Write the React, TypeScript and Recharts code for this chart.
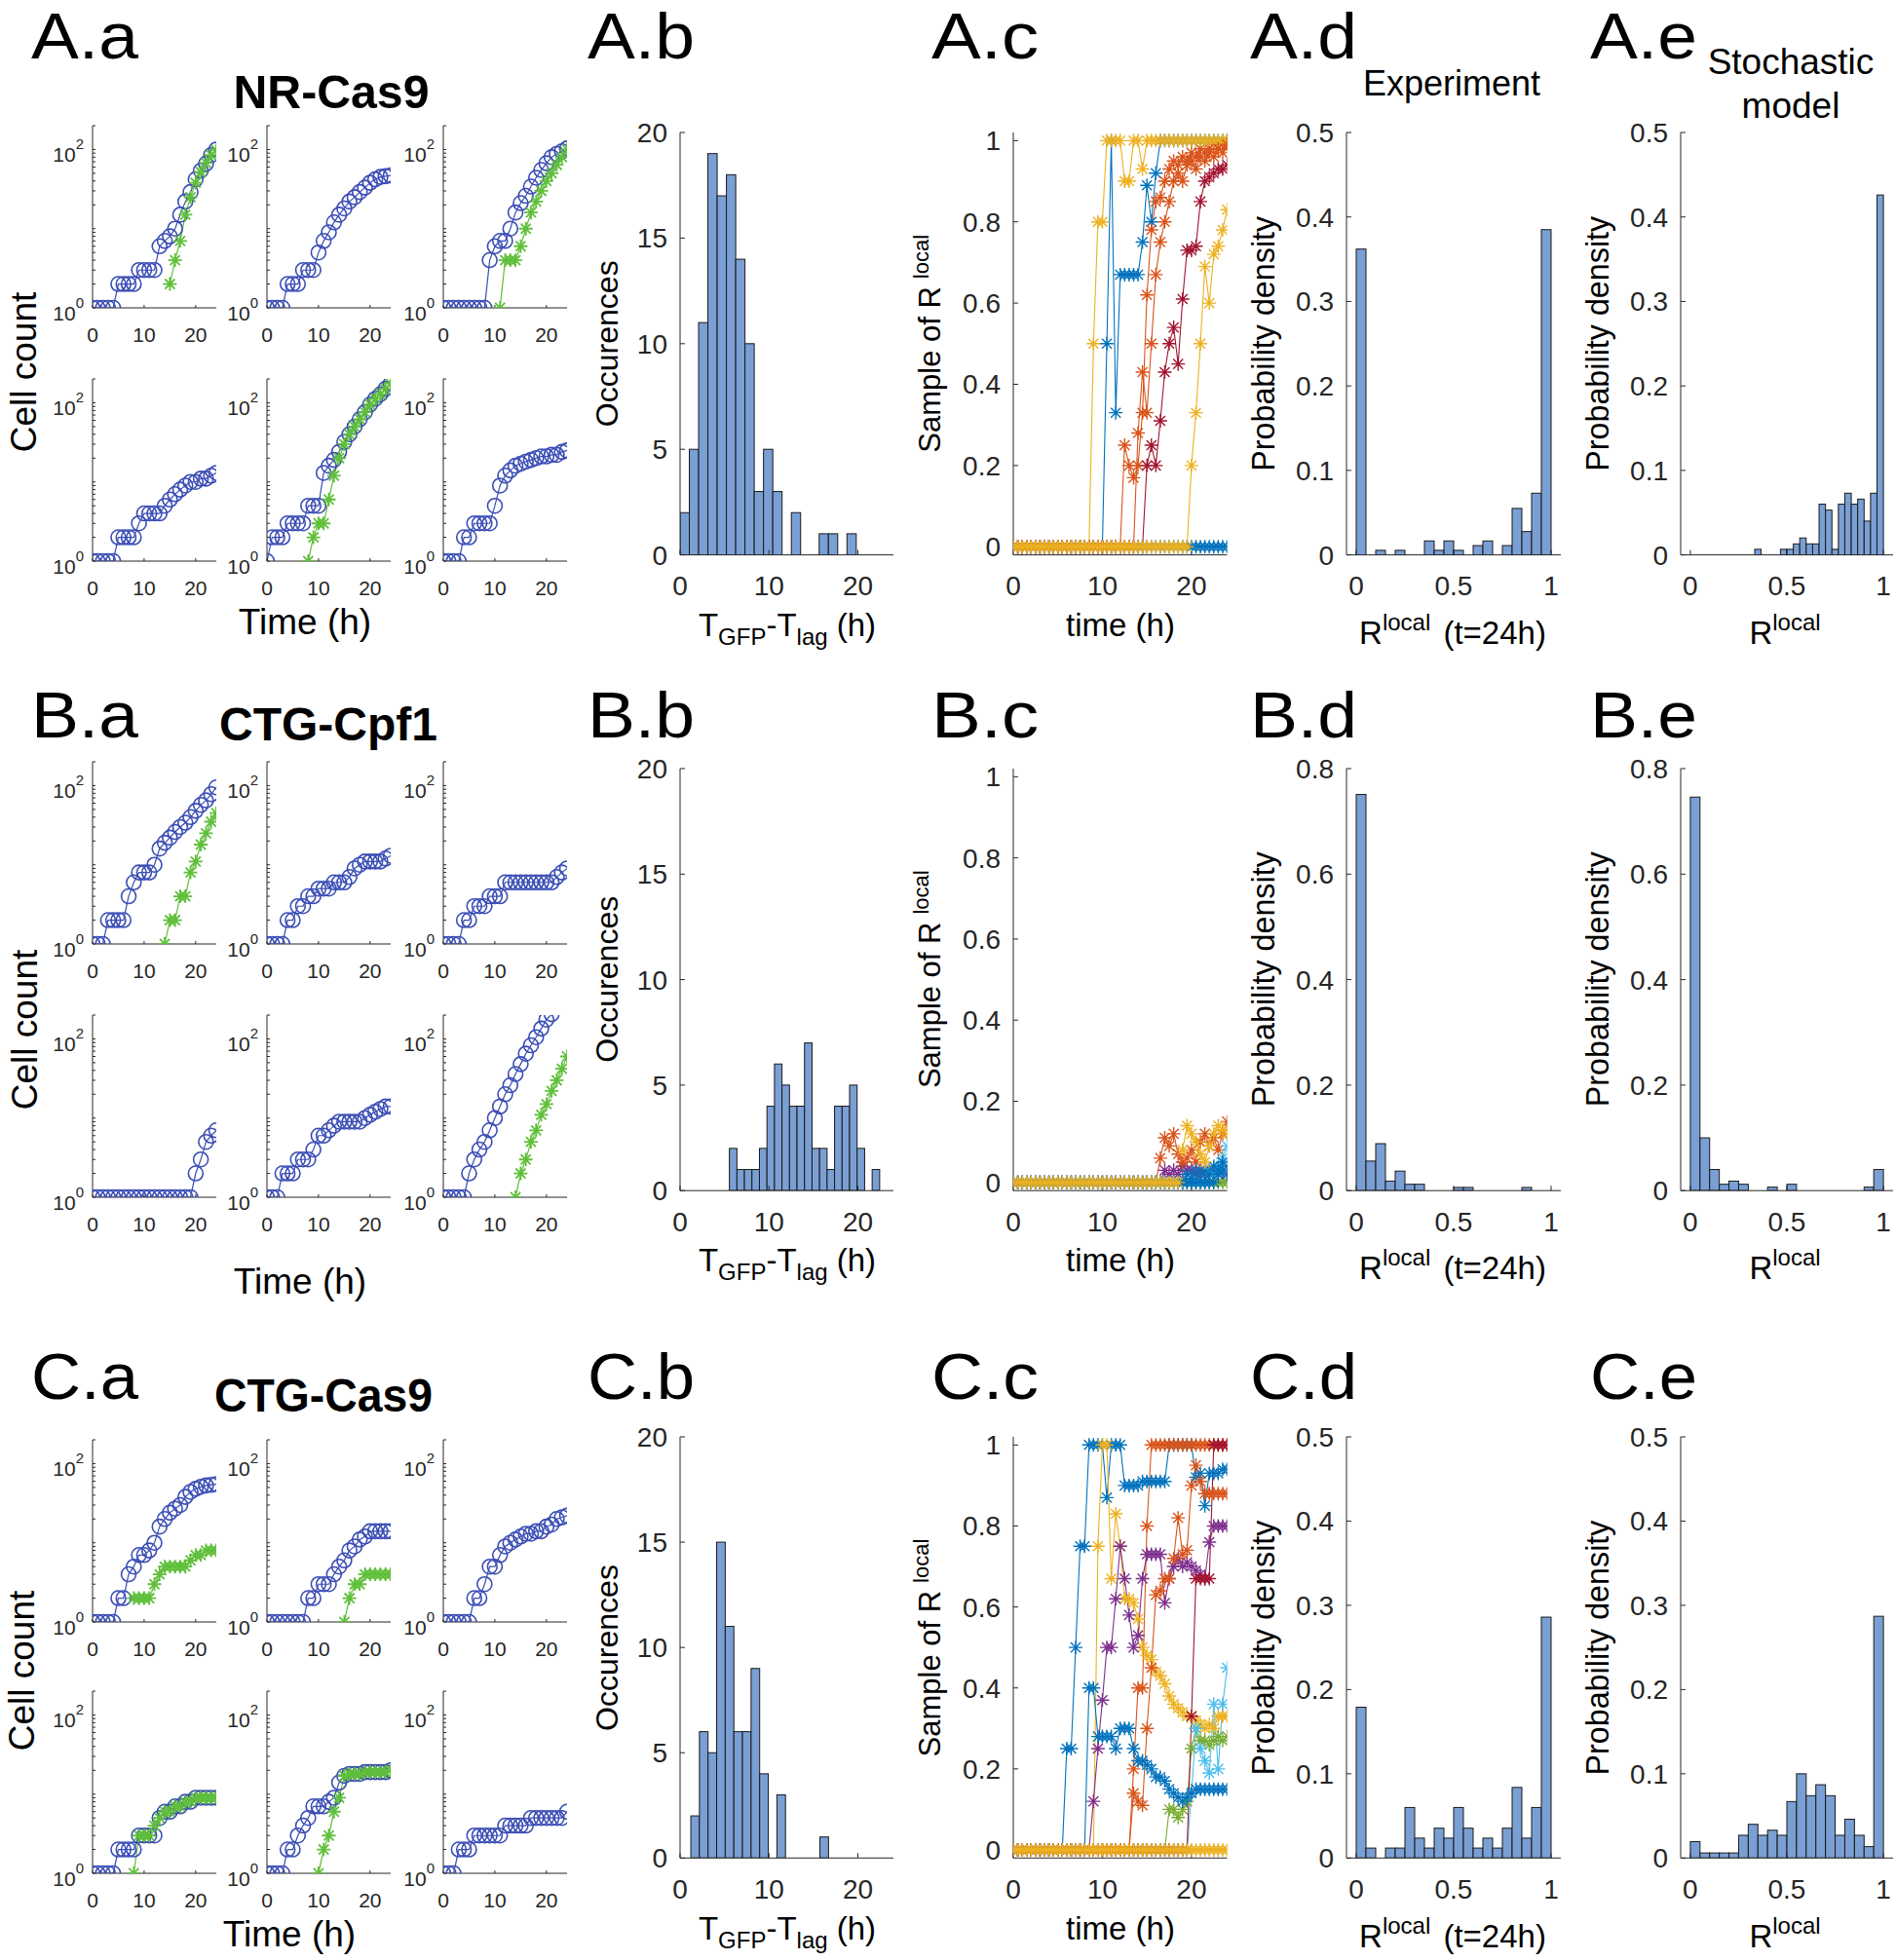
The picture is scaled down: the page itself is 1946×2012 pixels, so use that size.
import React from 'react';
import { ComposedChart, Line, Bar, XAxis, YAxis } from 'recharts';

const FONT = '"Liberation Sans", Arial, Helvetica, sans-serif';
const AX = '#262626';
const CIRCLE_BLUE = '#3A4DB5';
const GFP_GREEN = '#5FBF3A';
const BAR_FILL = '#7A9FD4';
const C = { blue: '#0072BD', orange: '#D95319', yellow: '#EDB120', purple: '#7E2F8E', green: '#77AC30', lblue: '#4DBEEE', red: '#A2142F' };

const n = null;

// hourly time grid for the cell count panels
const tH = [0, 1, 2, 3, 4, 5, 6, 7, 8, 9, 10, 11, 12, 13, 14, 15, 16, 17, 18, 19, 20, 21, 22, 23, 24];
const LOG_TICKS = [1, 2, 3, 4, 5, 6, 7, 8, 9, 10, 20, 30, 40, 50, 60, 70, 80, 90, 100, 200];

// NR-Cas9 cell counts (blue = all cells, green = GFP cells)
const aa1B = [1, 1, 1, 1, 1, 2, 2, 2, 2, 3, 3, 3, 3, 6, 7, 8, 10, 15, 22, 29, 42, 54, 66, 85, 100];
const aa1G = [n, n, n, n, n, n, n, n, n, n, n, n, n, n, n, 2, 4, 7, 15, 25, 38, 52, 68, 85, 98];
const aa2B = [1, 1, 1, 1, 2, 2, 2, 3, 3, 3, 5, 7, 9, 12, 15, 18, 22, 25, 29, 33, 38, 42, 45, 46, 47];
const aa3B = [1, 1, 1, 1, 1, 1, 1, 1, 1, 4, 6, 7, 7, 10, 16, 21, 26, 34, 44, 55, 67, 80, 88, 95, 103];
const aa3G = [n, n, n, n, n, n, n, n, n, n, n, 1, 4, 4, 4, 6, 10, 16, 22, 30, 40, 50, 64, 80, 100];
const aa4B = [1, 1, 1, 1, 1, 2, 2, 2, 2, 3, 4, 4, 4, 4, 5, 6, 7, 8, 9, 10, 10, 11, 11, 12, 13];
const aa5B = [1, 2, 2, 2, 3, 3, 3, 3, 5, 5, 5, 13, 16, 19, 24, 32, 40, 50, 62, 76, 95, 112, 128, 150, 175];
const aa5G = [n, n, n, n, n, n, n, n, 1, 2, 3, 3, 6, 12, 20, 30, 40, 50, 62, 76, 95, 112, 128, 150, 175];
const aa6B = [1, 1, 1, 1, 2, 2, 3, 3, 3, 3, 5, 9, 12, 14, 16, 17, 18, 19, 20, 21, 21, 22, 22, 24, 25];

// CTG-Cpf1 cell counts
const ba1B = [1, 1, 1, 2, 2, 2, 2, 4, 6, 8, 8, 8, 10, 16, 19, 22, 26, 30, 34, 40, 48, 57, 65, 78, 95];
const ba1G = [n, n, n, n, n, n, n, n, n, n, n, n, n, n, 1, 2, 2, 4, 4, 8, 11, 18, 25, 35, 45];
const ba2B = [1, 1, 1, 1, 2, 2, 3, 3, 4, 4, 5, 5, 5, 6, 6, 6, 7, 9, 10, 11, 11, 11, 11, 12, 13];
const ba3B = [1, 1, 1, 1, 2, 2, 3, 3, 3, 4, 4, 4, 6, 6, 6, 6, 6, 6, 6, 6, 6, 6, 7, 8, 9];
const ba4B = [1, 1, 1, 1, 1, 1, 1, 1, 1, 1, 1, 1, 1, 1, 1, 1, 1, 1, 1, 1, 2, 3, 5, 6, 7];
const ba5B = [1, 1, 1, 2, 2, 2, 3, 3, 3, 4, 6, 6, 7, 8, 9, 9, 9, 9, 9, 10, 11, 12, 13, 14, 14];
const ba6B = [1, 1, 1, 1, 1, 2, 3, 4, 5, 7, 10, 14, 20, 26, 36, 48, 65, 83, 105, 135, 175, 205, n, n, n];
const ba6G = [n, n, n, n, n, n, n, n, n, n, n, n, n, n, 1, 2, 3, 5, 7, 11, 15, 22, 30, 42, 60];

// CTG-Cas9 cell counts
const ca1B = [1, 1, 1, 1, 1, 2, 2, 4, 5, 7, 7, 8, 10, 16, 20, 24, 27, 30, 38, 44, 48, 51, 53, 54, 55];
const ca1G = [n, n, n, n, n, n, n, n, 2, 2, 2, 2, 3, 4, 5, 5, 5, 5, 5, 6, 7, 7, 8, 8, 8];
const ca2B = [1, 1, 1, 1, 1, 1, 1, 1, 2, 2, 3, 3, 3, 4, 5, 6, 8, 9, 11, 12, 14, 14, 14, 14, 14];
const ca2G = [n, n, n, n, n, n, n, n, n, n, n, n, n, n, n, 1, 2, 3, 3, 4, 4, 4, 4, 4, 4];
const ca3B = [1, 1, 1, 1, 1, 1, 2, 2, 3, 5, 5, 7, 9, 10, 11, 12, 13, 13, 14, 14, 16, 17, 20, 21, 22];
const ca4B = [1, 1, 1, 1, 1, 2, 2, 2, 2, 3, 3, 3, 3, 5, 6, 6, 7, 7, 8, 8, 9, 9, 9, 9, 9];
const ca4G = [n, n, n, n, n, n, n, n, 1, 3, 3, 3, 4, 5, 6, 6, 7, 7, 8, 8, 9, 9, 9, 9, 9];
const ca5B = [1, 1, 1, 1, 2, 2, 3, 4, 5, 7, 7, 7, 8, 9, 14, 17, 18, 18, 18, 19, 19, 19, 19, 19, 20];
const ca5G = [n, n, n, n, n, n, n, n, n, n, 1, 2, 3, 6, 9, 17, 18, 18, 18, 19, 19, 19, 19, 19, 20];
const ca6B = [1, 1, 1, 2, 2, 2, 3, 3, 3, 3, 3, 3, 4, 4, 4, 4, 4, 5, 5, 5, 5, 5, 5, 5, 6];

// half-hour grid for the R-local samples
const tR = [0, 0.5, 1, 1.5, 2, 2.5, 3, 3.5, 4, 4.5, 5, 5.5, 6, 6.5, 7, 7.5, 8, 8.5, 9, 9.5, 10, 10.5, 11, 11.5, 12, 12.5,
  13, 13.5, 14, 14.5, 15, 15.5, 16, 16.5, 17, 17.5, 18, 18.5, 19, 19.5, 20, 20.5, 21, 21.5, 22, 22.5, 23, 23.5, 24];

const acB1 = [0, 0, 0, 0, 0, 0, 0, 0, 0, 0, 0, 0, 0, 0, 0, 0, 0, 0, 0, 0, 0,
  0.5, 1, 0.33, 0.67, 0.67, 0.67, 0.67, 0.67, 0.75, 0.89, 0.8, 0.92, 1, 1, 1, 1, 1, 1, 1, 1, 1, 1, 1, 1, 1, 1, 1, 1];
const acO1 = [0, 0, 0, 0, 0, 0, 0, 0, 0, 0, 0, 0, 0, 0, 0, 0, 0, 0, 0, 0, 0, 0, 0, 0, 0,
  0.25, 0.2, 0.17, 0.2, 0.33, 0.62, 0.78, 0.85, 0.86, 0.9, 0.93, 0.95, 0.94, 0.96, 0.95, 0.97, 0.96, 0.98, 0.97, 0.98, 0.99, 0.98, 0.99, 1];
const acY1 = [0, 0, 0, 0, 0, 0, 0, 0, 0, 0, 0, 0, 0, 0, 0, 0, 0, 0,
  0.5, 0.8, 0.8, 1, 1, 1, 1, 0.9, 0.9, 1, 1, 0.93, 1, 1, 1, 1, 1, 1, 1, 1, 1, 1, 1, 1, 1, 1, 1, 1, 1, 1, 1];
const acR1 = [0, 0, 0, 0, 0, 0, 0, 0, 0, 0, 0, 0, 0, 0, 0, 0, 0, 0, 0, 0, 0, 0, 0, 0, 0, 0, 0, 0, 0, 0,
  0.2, 0.25, 0.2, 0.31, 0.43, 0.5, 0.54, 0.45, 0.61, 0.73, 0.73, 0.74, 0.85, 0.9, 0.91, 0.92, 0.93, 0.93, 0.94];
const acB2 = [0, 0, 0, 0, 0, 0, 0, 0, 0, 0, 0, 0, 0, 0, 0, 0, 0, 0, 0, 0, 0, 0, 0, 0, 0,
  0, 0, 0, 0, 0, 0, 0, 0, 0, 0, 0, 0, 0, 0, 0, 0, 0, 0, 0, 0, 0, 0, 0, 0];
const acO2 = [0, 0, 0, 0, 0, 0, 0, 0, 0, 0, 0, 0, 0, 0, 0, 0, 0, 0, 0, 0, 0, 0, 0, 0, 0, 0, 0, 0,
  0.28, 0.43, 0.33, 0.5, 0.67, 0.75, 0.8, 0.85, 0.9, 0.92, 0.9, 0.94, 0.95, 0.93, 0.96, 0.95, 0.97, 0.96, 0.98, 0.97, 0.99];
const acY2 = [0, 0, 0, 0, 0, 0, 0, 0, 0, 0, 0, 0, 0, 0, 0, 0, 0, 0, 0, 0, 0, 0, 0, 0, 0, 0, 0, 0, 0, 0, 0, 0, 0, 0, 0, 0, 0, 0, 0, 0,
  0.2, 0.33, 0.5, 0.69, 0.6, 0.72, 0.74, 0.78, 0.83];

const bcG = [0, 0, 0, 0, 0, 0, 0, 0, 0, 0, 0, 0, 0, 0, 0, 0, 0, 0, 0, 0, 0, 0, 0, 0, 0,
  0, 0, 0, 0, 0, 0, 0, 0, 0, 0, 0, 0, 0, 0, 0, 0, 0, 0, 0, 0, 0, 0, 0, 0];
const bcP = [0, 0, 0, 0, 0, 0, 0, 0, 0, 0, 0, 0, 0, 0, 0, 0, 0, 0, 0, 0, 0, 0, 0, 0, 0, 0, 0, 0, 0, 0, 0, 0, 0, 0,
  0.03, 0.02, 0.03, 0.02, 0.04, 0.03, 0.03, 0.02, 0.03, 0.02, 0.03, 0.03, 0.02, 0.03, 0.02];
const bcO = [0, 0, 0, 0, 0, 0, 0, 0, 0, 0, 0, 0, 0, 0, 0, 0, 0, 0, 0, 0, 0, 0, 0, 0, 0, 0, 0, 0, 0, 0, 0, 0, 0,
  0.06, 0.11, 0.09, 0.12, 0.07, 0.05, 0.06, 0.08, 0.05, 0.1, 0.12, 0.09, 0.11, 0.08, 0.12, 0.15];
const bcLB = [0, 0, 0, 0, 0, 0, 0, 0, 0, 0, 0, 0, 0, 0, 0, 0, 0, 0, 0, 0, 0, 0, 0, 0, 0,
  0, 0, 0, 0, 0, 0, 0, 0, 0, 0, 0, 0, 0, 0, 0, 0, 0, 0, 0, 0.03, 0.02, 0.04, 0.06, 0.09];
const bcB2 = [0, 0, 0, 0, 0, 0, 0, 0, 0, 0, 0, 0, 0, 0, 0, 0, 0, 0, 0, 0, 0, 0, 0, 0, 0,
  0, 0, 0, 0, 0, 0, 0, 0, 0, 0, 0, 0, 0, 0, 0.02, 0.01, 0.03, 0.02, 0.03, 0.02, 0.04, 0.03, 0.05, 0.04];
const bcB = [0, 0, 0, 0, 0, 0, 0, 0, 0, 0, 0, 0, 0, 0, 0, 0, 0, 0, 0, 0, 0, 0, 0, 0, 0,
  0, 0, 0, 0, 0, 0, 0, 0, 0, 0, 0, 0, 0, 0, 0, 0, 0, 0, 0, 0, 0, 0.02, 0.03, 0.02];
const bcY = [0, 0, 0, 0, 0, 0, 0, 0, 0, 0, 0, 0, 0, 0, 0, 0, 0, 0, 0, 0, 0, 0, 0, 0, 0,
  0, 0, 0, 0, 0, 0, 0, 0, 0, 0, 0, 0, 0, 0.08, 0.14, 0.12, 0.1, 0.07, 0.05, 0.09, 0.12, 0.14, 0.13, 0.12];

const ccB1 = [0, 0, 0, 0, 0, 0, 0, 0, 0, 0, 0, 0,
  0.25, 0.25, 0.5, 0.75, 0.75, 1, 1, 1, 1, 0.87, 1, 1, 1, 0.9, 0.9, 0.9, 0.9, 0.91, 0.91, 0.91, 0.91, 0.91, 0.91,
  1, 1, 1, 1, 1, 1, 0.92, 0.93, 0.85, 0.93, 0.93, 0.93, 0.94, 0.94];
const ccO1 = [0, 0, 0, 0, 0, 0, 0, 0, 0, 0, 0, 0, 0, 0, 0, 0, 0, 0, 0, 0, 0, 0, 0, 0, 0, 0, 0,
  0.2, 0.4, 0.4, 0.8, 1, 1, 1, 1, 1, 1, 1, 1, 1, 1, 1, 1, 1, 1, 1, 1, 1, 1];
const ccY1 = [0, 0, 0, 0, 0, 0, 0, 0, 0, 0, 0, 0, 0, 0, 0, 0, 0, 0, 0,
  0.75, 1, 1, 0.67, 0.83, 0.75, 0.62, 0.62, 0.61, 0.57, 0.5, 0.48, 0.47, 0.44, 0.43, 0.41, 0.38, 0.36, 0.35, 0.34,
  0.33, 0.33, 0.32, 0.31, 0.3, 0.31, 0.3, 0.33, 0.33, 0.33];
const ccP = [0, 0, 0, 0, 0, 0, 0, 0, 0, 0, 0, 0, 0, 0, 0, 0, 0, 0,
  0.12, 0.25, 0.37, 0.5, 0.5, 0.62, 0.75, 0.67, 0.58, 0.5, 0.53, 0.67, 0.73, 0.73, 0.73, 0.73, 0.61, 0.67, 0.7, 0.72,
  0.7, 0.71, 0.7, 0.69, 0.68, 0.67, 0.76, 0.8, 0.8, 0.8, 0.8];
const ccG = [0, 0, 0, 0, 0, 0, 0, 0, 0, 0, 0, 0, 0, 0, 0, 0, 0, 0, 0, 0, 0, 0, 0, 0, 0, 0, 0, 0, 0, 0, 0, 0, 0, 0, 0,
  0.1, 0.1, 0.08, 0.1, 0.12, 0.25, 0.3, 0.27, 0.27, 0.26, 0.27, 0.28, 0.27, 0.28];
const ccLB = [0, 0, 0, 0, 0, 0, 0, 0, 0, 0, 0, 0, 0, 0, 0, 0, 0, 0, 0, 0, 0, 0, 0, 0, 0, 0, 0, 0, 0, 0, 0, 0, 0, 0, 0, 0, 0, 0, 0, 0,
  0.14, 0.3, 0.25, 0.22, 0.19, 0.36, 0.2, 0.36, 0.45];
const ccR = [0, 0, 0, 0, 0, 0, 0, 0, 0, 0, 0, 0, 0, 0, 0, 0, 0, 0, 0, 0, 0, 0, 0, 0, 0, 0, 0, 0, 0, 0, 0, 0, 0, 0, 0, 0, 0, 0, 0, 0,
  0.33, 0.67, 0.67, 0.67, 0.67, 1, 1, 1, 1];
const ccB2 = [0, 0, 0, 0, 0, 0, 0, 0, 0, 0, 0, 0, 0, 0, 0, 0, 0,
  0.4, 0.4, 0.28, 0.28, 0.28, 0.28, 0.25, 0.3, 0.3, 0.3, 0.25, 0.22, 0.22, 0.21, 0.2, 0.18, 0.18, 0.17, 0.15, 0.14,
  0.13, 0.12, 0.13, 0.14, 0.15, 0.15, 0.15, 0.15, 0.15, 0.15, 0.15, 0.15];
const ccO2 = [0, 0, 0, 0, 0, 0, 0, 0, 0, 0, 0, 0, 0, 0, 0, 0, 0, 0, 0, 0, 0, 0, 0, 0, 0, 0, 0,
  0.14, 0.12, 0.11, 0.3, 0.45, 0.63, 0.64, 0.67, 0.67, 0.72, 0.82, 0.73, 0.74, 0.9, 0.95, 0.91, 0.88, 0.88, 0.88, 0.88, 0.88, 0.88];
const ccY2 = [0, 0, 0, 0, 0, 0, 0, 0, 0, 0, 0, 0, 0, 0, 0, 0, 0, 0, 0, 0, 0, 0, 0, 0, 0,
  0, 0, 0, 0, 0, 0, 0, 0, 0, 0, 0, 0, 0, 0, 0, 0, 0, 0, 0, 0, 0, 0, 0, 0];

// T_GFP - T_lag histograms (counts)
const abCounts = [2, 5, 11, 19, 17, 18, 14, 10, 3, 5, 3, 0, 2, 0, 0, 1, 1, 0, 1];
const abStart = 0, abWidth = 1.043;
const bbCounts = [2, 1, 1, 1, 2, 4, 6, 5, 4, 4, 7, 2, 2, 1, 4, 4, 5, 2, 0, 1];
const bbStart = 5.55, bbWidth = 0.845;
const cbCounts = [2, 6, 5, 15, 11, 6, 6, 9, 4, 0, 3, 0, 0, 0, 0, 1];
const cbStart = 1.21, cbWidth = 0.968;

// R-local probability densities
const adDens = [0.362, 0, 0.0054, 0, 0.0054, 0, 0, 0.0165, 0.0054, 0.0165, 0.0054, 0, 0.011, 0.0165, 0, 0.011, 0.055, 0.0276, 0.073, 0.385];
const aeDens = [0, 0, 0, 0, 0, 0, 0, 0, 0, 0, 0.0066, 0, 0, 0, 0.0066, 0.0066, 0.013, 0.02, 0.013, 0.013,
  0.06, 0.053, 0.0066, 0.06, 0.073, 0.06, 0.066, 0.04, 0.073, 0.426];
const bdDens = [0.751, 0.056, 0.089, 0.018, 0.037, 0.012, 0.012, 0, 0, 0, 0.006, 0.006, 0, 0, 0, 0, 0, 0.006, 0, 0];
const beDens = [0.746, 0.1, 0.04, 0.012, 0.018, 0.012, 0, 0, 0.0066, 0, 0.012, 0, 0, 0, 0, 0, 0, 0, 0.0066, 0.04];
const cdDens = [0.179, 0.0118, 0, 0.0118, 0.0118, 0.06, 0.0236, 0.0118, 0.0354, 0.0236, 0.06, 0.0354, 0.0118, 0.0236,
  0.0118, 0.0354, 0.0838, 0.0236, 0.06, 0.286];
const ceDens = [0.0194, 0.006, 0.006, 0.006, 0.006, 0.027, 0.04, 0.027, 0.033, 0.027, 0.067, 0.1, 0.074, 0.087, 0.074,
  0.027, 0.046, 0.027, 0.0135, 0.287];

type Box = { l: number; t: number; w: number; h: number };
const PAD = { l: 80, r: 16, t: 14, b: 52 };
const MARGIN = { top: PAD.t, right: PAD.r, bottom: 0, left: 0 };
const wrap = (b: Box) => ({ position: 'absolute' as const, left: b.l - PAD.l, top: b.t - PAD.t });
const size = (b: Box) => ({ width: b.w + PAD.l + PAD.r, height: b.h + PAD.t + PAD.b });

const circleDot = (color: string) => (p: any) => {
  if (p.cy == null || p.value == null || isNaN(p.cy)) return <g key={`c${p.index}`} />;
  return <circle key={`c${p.index}`} cx={p.cx} cy={p.cy} r={7.5} fill="none" stroke={color} strokeWidth={1.6} />;
};

const starDot = (color: string, s = 7, w = 1.4) => (p: any) => {
  if (p.cy == null || p.value == null || isNaN(p.cy)) return <g key={`s${p.index}`} />;
  const { cx, cy } = p;
  const d = s * 0.72;
  return (
    <path key={`s${p.index}`} fill="none" stroke={color} strokeWidth={w}
      d={`M${cx - s},${cy}H${cx + s}M${cx},${cy - s}V${cy + s}M${cx - d},${cy - d}L${cx + d},${cy + d}M${cx - d},${cy + d}L${cx + d},${cy - d}`} />
  );
};

const histShape = (binPx: number) => (p: any) => {
  if (!p.payload || !p.payload.v || !(p.height > 0)) return <g />;
  const cx = p.x + p.width / 2;
  return <rect x={cx - binPx / 2} y={p.y} width={binPx} height={p.height} fill={BAR_FILL} stroke="#1A1A1A" strokeWidth={1} />;
};

const LogTick = (p: any) => {
  const v = p.payload?.value;
  if (v !== 1 && v !== 100) return <g />;
  return (
    <text x={p.x} y={p.y + 13} textAnchor="end" fontSize={21} fill={AX} fontFamily={FONT}>
      10<tspan dy={-13} fontSize={15}>{v === 1 ? '0' : '2'}</tspan>
    </text>
  );
};

function bigAxes(xKey: string, xd: number[], xt: number[], yd: number[], yt: number[]) {
  const font = { fontSize: 28, fill: AX, fontFamily: FONT };
  return [
    <XAxis key="xb" dataKey={xKey} type="number" domain={xd} ticks={xt} allowDataOverflow interval={0}
      height={PAD.b} tickSize={-5} tickMargin={27} stroke={AX} tick={font} />,
    <XAxis key="xt" xAxisId="top" orientation="top" type="number" domain={xd} ticks={xt} allowDataOverflow
      interval={0} height={0} tickSize={-5} stroke={AX} tick={false} />,
    <YAxis key="yl" type="number" domain={yd} ticks={yt} allowDataOverflow interval={0}
      width={PAD.l} tickSize={-5} tickMargin={18} stroke={AX} tick={font} />,
    <YAxis key="yr" yAxisId="right" orientation="right" type="number" domain={yd} ticks={yt} allowDataOverflow
      interval={0} width={0} tickSize={-5} stroke={AX} tick={false} />,
  ];
}

function CountPanel({ box, blue, green }: { box: Box; blue: (number | null)[]; green?: (number | null)[] }) {
  const data = tH.map((t, i) => ({ t, b: blue[i] ?? null, g: green ? green[i] ?? null : null }));
  return (
    <div style={wrap(box)}>
      <ComposedChart {...size(box)} data={data} margin={MARGIN}>
        <XAxis dataKey="t" type="number" domain={[0, 24]} ticks={[0, 10, 20]} allowDataOverflow interval={0}
          height={PAD.b} tickSize={-3} tickMargin={23} stroke={AX} tick={{ fontSize: 21, fill: AX, fontFamily: FONT }} />
        <XAxis xAxisId="top" orientation="top" type="number" domain={[0, 24]} ticks={[0, 10, 20]} allowDataOverflow
          interval={0} height={0} tickSize={-3} stroke={AX} tick={false} />
        <YAxis type="number" scale="log" domain={[1, 200]} ticks={LOG_TICKS} allowDataOverflow interval={0}
          width={PAD.l} tickSize={-3} tickMargin={12} stroke={AX} tick={LogTick} />
        <YAxis yAxisId="right" orientation="right" type="number" scale="log" domain={[1, 200]} ticks={LOG_TICKS}
          allowDataOverflow interval={0} width={0} tickSize={-3} stroke={AX} tick={false} />
        <Line dataKey="b" stroke={CIRCLE_BLUE} strokeWidth={1.2} dot={circleDot(CIRCLE_BLUE)} activeDot={false}
          isAnimationActive={false} />
        {green && (
          <Line dataKey="g" stroke={GFP_GREEN} strokeWidth={1.2} dot={starDot(GFP_GREEN, 7, 1.8)} activeDot={false}
            isAnimationActive={false} />
        )}
      </ComposedChart>
    </div>
  );
}

function RPanel({ box, series }: { box: Box; series: { v: number[]; c: string }[] }) {
  const data = tR.map((t, i) => {
    const row: any = { t };
    series.forEach((s, k) => { row['s' + k] = s.v[i]; });
    return row;
  });
  return (
    <div style={wrap(box)}>
      <ComposedChart {...size(box)} data={data} margin={MARGIN}>
        {bigAxes('t', [0, 24], [0, 10, 20], [-0.02, 1.02], [0, 0.2, 0.4, 0.6, 0.8, 1])}
        {series.map((s, k) => (
          <Line key={k} dataKey={'s' + k} stroke={s.c} strokeWidth={1.1} dot={starDot(s.c)} activeDot={false}
            isAnimationActive={false} />
        ))}
      </ComposedChart>
    </div>
  );
}

function HistPanel({ box, vals, start, binW, xd, xt, yd, yt }:
  { box: Box; vals: number[]; start: number; binW: number; xd: number[]; xt: number[]; yd: number[]; yt: number[] }) {
  const data = vals.map((v, k) => ({ x: start + (k + 0.5) * binW, v }));
  const binPx = (binW * box.w) / (xd[1] - xd[0]);
  return (
    <div style={wrap(box)}>
      <ComposedChart {...size(box)} data={data} margin={MARGIN} barGap={0} barCategoryGap={0}>
        {bigAxes('x', xd, xt, yd, yt)}
        <Bar dataKey="v" barSize={Math.max(1, binPx - 2)} shape={histShape(binPx)} isAnimationActive={false} />
      </ComposedChart>
    </div>
  );
}

const COLX = [94.9, 274.4, 454.6];
const SW = 127, SH = 187;
const BIG = { b: [698.3, 219], c: [1040, 219.5], d: [1382, 220], e: [1725, 218] };

const ROWS = [
  { L: 'A', letterY: 60, title: 'NR-Cas9', titleX: 340, titleY: 111, small: [128.6, 388.6], top: 136, h: 433.6,
    cellX: 37, cellY: 382, timeX: 313, timeY: 651,
    counts: [[aa1B, aa1G], [aa2B], [aa3B, aa3G], [aa4B], [aa5B, aa5G], [aa6B]],
    hist: [abCounts, abStart, abWidth], dY: [0, 0.5], dT: [0, 0.1, 0.2, 0.3, 0.4, 0.5], d: adDens, e: aeDens, eW: 1 / 30,
    r: [{ v: acB1, c: C.blue }, { v: acO1, c: C.orange }, { v: acY1, c: C.yellow }, { v: acR1, c: C.red },
      { v: acB2, c: C.blue }, { v: acO2, c: C.orange }, { v: acY2, c: C.yellow }] },
  { L: 'B', letterY: 757, title: 'CTG-Cpf1', titleX: 337, titleY: 760, small: [781.8, 1041.5], top: 788.6, h: 433.2,
    cellX: 38, cellY: 1057, timeX: 308, timeY: 1328,
    counts: [[ba1B, ba1G], [ba2B], [ba3B], [ba4B], [ba5B], [ba6B, ba6G]],
    hist: [bbCounts, bbStart, bbWidth], dY: [0, 0.8], dT: [0, 0.2, 0.4, 0.6, 0.8], d: bdDens, e: beDens, eW: 0.05,
    r: [{ v: bcG, c: C.green }, { v: bcP, c: C.purple }, { v: bcO, c: C.orange }, { v: bcLB, c: C.lblue },
      { v: bcB2, c: C.blue }, { v: bcB, c: C.blue }, { v: bcY, c: C.yellow }] },
  { L: 'C', letterY: 1436, title: 'CTG-Cas9', titleX: 332, titleY: 1449, small: [1477.7, 1735.6], top: 1475.4, h: 432.3,
    cellX: 35, cellY: 1715, timeX: 297, timeY: 1998,
    counts: [[ca1B, ca1G], [ca2B, ca2G], [ca3B], [ca4B, ca4G], [ca5B, ca5G], [ca6B]],
    hist: [cbCounts, cbStart, cbWidth], dY: [0, 0.5], dT: [0, 0.1, 0.2, 0.3, 0.4, 0.5], d: cdDens, e: ceDens, eW: 0.05,
    r: [{ v: ccB1, c: C.blue }, { v: ccO1, c: C.orange }, { v: ccY1, c: C.yellow }, { v: ccP, c: C.purple },
      { v: ccG, c: C.green }, { v: ccLB, c: C.lblue }, { v: ccR, c: C.red }, { v: ccB2, c: C.blue },
      { v: ccO2, c: C.orange }, { v: ccY2, c: C.yellow }] },
];

const VText = ({ x, y, size: fs, children, len }: any) => (
  <text transform={`translate(${x},${y}) rotate(-90)`} textAnchor="middle" fontSize={fs} fontFamily={FONT} fill="#000"
    textLength={len} lengthAdjust={len ? 'spacingAndGlyphs' : undefined}>
    {children}
  </text>
);

function Labels() {
  const letters = ['a', 'b', 'c', 'd', 'e'];
  const letterX = [32, 603, 956, 1283, 1632];
  return (
    <svg width={1946} height={2012} style={{ position: 'absolute', left: 0, top: 0, pointerEvents: 'none' }}>
      <g fontFamily={FONT} fill="#000">
        <text x={1490} y={98} textAnchor="middle" fontSize={36}>Experiment</text>
        <text x={1838} y={76} textAnchor="middle" fontSize={37}>Stochastic</text>
        <text x={1838} y={121} textAnchor="middle" fontSize={37}>model</text>
        {ROWS.map((r) => {
          const bottom = r.top + r.h;
          const mid = r.top + r.h / 2;
          return (
            <g key={r.L}>
              {letters.map((s, i) => (
                <text key={s} x={letterX[i]} y={r.letterY} fontSize={66} textLength={110}
                  lengthAdjust="spacingAndGlyphs">{`${r.L}.${s}`}</text>
              ))}
              <text x={r.titleX} y={r.titleY} textAnchor="middle" fontSize={48} fontWeight="bold" textLength={r.L === 'A' ? 201 : 224}
                lengthAdjust="spacingAndGlyphs">{r.title}</text>
              <VText x={r.cellX} y={r.cellY} size={37}>Cell count</VText>
              <text x={r.timeX} y={r.timeY} textAnchor="middle" fontSize={37}>Time (h)</text>
              <VText x={634} y={mid} size={32} len={171}>Occurences</VText>
              <text x={808} y={bottom + 83} textAnchor="middle" fontSize={33}>
                T<tspan fontSize={24} dy={9}>GFP</tspan><tspan fontSize={33} dy={-9}>-T</tspan>
                <tspan fontSize={24} dy={9}>lag</tspan><tspan fontSize={33} dy={-9}>{'\u00A0(h)'}</tspan>
              </text>
              <text transform={`translate(965,${mid}) rotate(-90)`} textAnchor="middle" fontSize={31}>
                Sample of R<tspan dx={8} dy={-12} fontSize={22}>local</tspan>
              </text>
              <text x={1150} y={bottom + 83} textAnchor="middle" fontSize={33}>time (h)</text>
              <VText x={1308} y={mid} size={33} len={262}>Probability density</VText>
              <VText x={1651} y={mid} size={33} len={262}>Probability density</VText>
              <text x={1491} y={bottom + 91} textAnchor="middle" fontSize={33}>
                R<tspan fontSize={24} dy={-14}>local</tspan><tspan fontSize={33} dy={14} dx={4}>{'\u00A0(t=24h)'}</tspan>
              </text>
              <text x={1832} y={bottom + 91} textAnchor="middle" fontSize={33}>
                R<tspan fontSize={24} dy={-14}>local</tspan>
              </text>
            </g>
          );
        })}
      </g>
    </svg>
  );
}

export default function App() {
  return (
    <div style={{ position: 'absolute', left: 0, top: 0, width: 1946, height: 2012, background: '#fff', fontFamily: FONT }}>
      {ROWS.map((r) => {
        const [hv, hs, hw] = r.hist as [number[], number, number];
        return (
          <React.Fragment key={r.L}>
            {r.counts.map((set, i) => (
              <CountPanel key={i} box={{ l: COLX[i % 3], t: r.small[Math.floor(i / 3)], w: SW, h: SH }}
                blue={set[0]} green={set[1]} />
            ))}
            <HistPanel box={{ l: BIG.b[0], t: r.top, w: BIG.b[1], h: r.h }} vals={hv} start={hs} binW={hw}
              xd={[0, 24]} xt={[0, 10, 20]} yd={[0, 20]} yt={[0, 5, 10, 15, 20]} />
            <RPanel box={{ l: BIG.c[0], t: r.top, w: BIG.c[1], h: r.h }} series={r.r} />
            <HistPanel box={{ l: BIG.d[0], t: r.top, w: BIG.d[1], h: r.h }} vals={r.d} start={0} binW={0.05}
              xd={[-0.05, 1.05]} xt={[0, 0.5, 1]} yd={r.dY} yt={r.dT} />
            <HistPanel box={{ l: BIG.e[0], t: r.top, w: BIG.e[1], h: r.h }} vals={r.e} start={0} binW={r.eW}
              xd={[-0.05, 1.05]} xt={[0, 0.5, 1]} yd={r.dY} yt={r.dT} />
          </React.Fragment>
        );
      })}
      <Labels />
    </div>
  );
}
